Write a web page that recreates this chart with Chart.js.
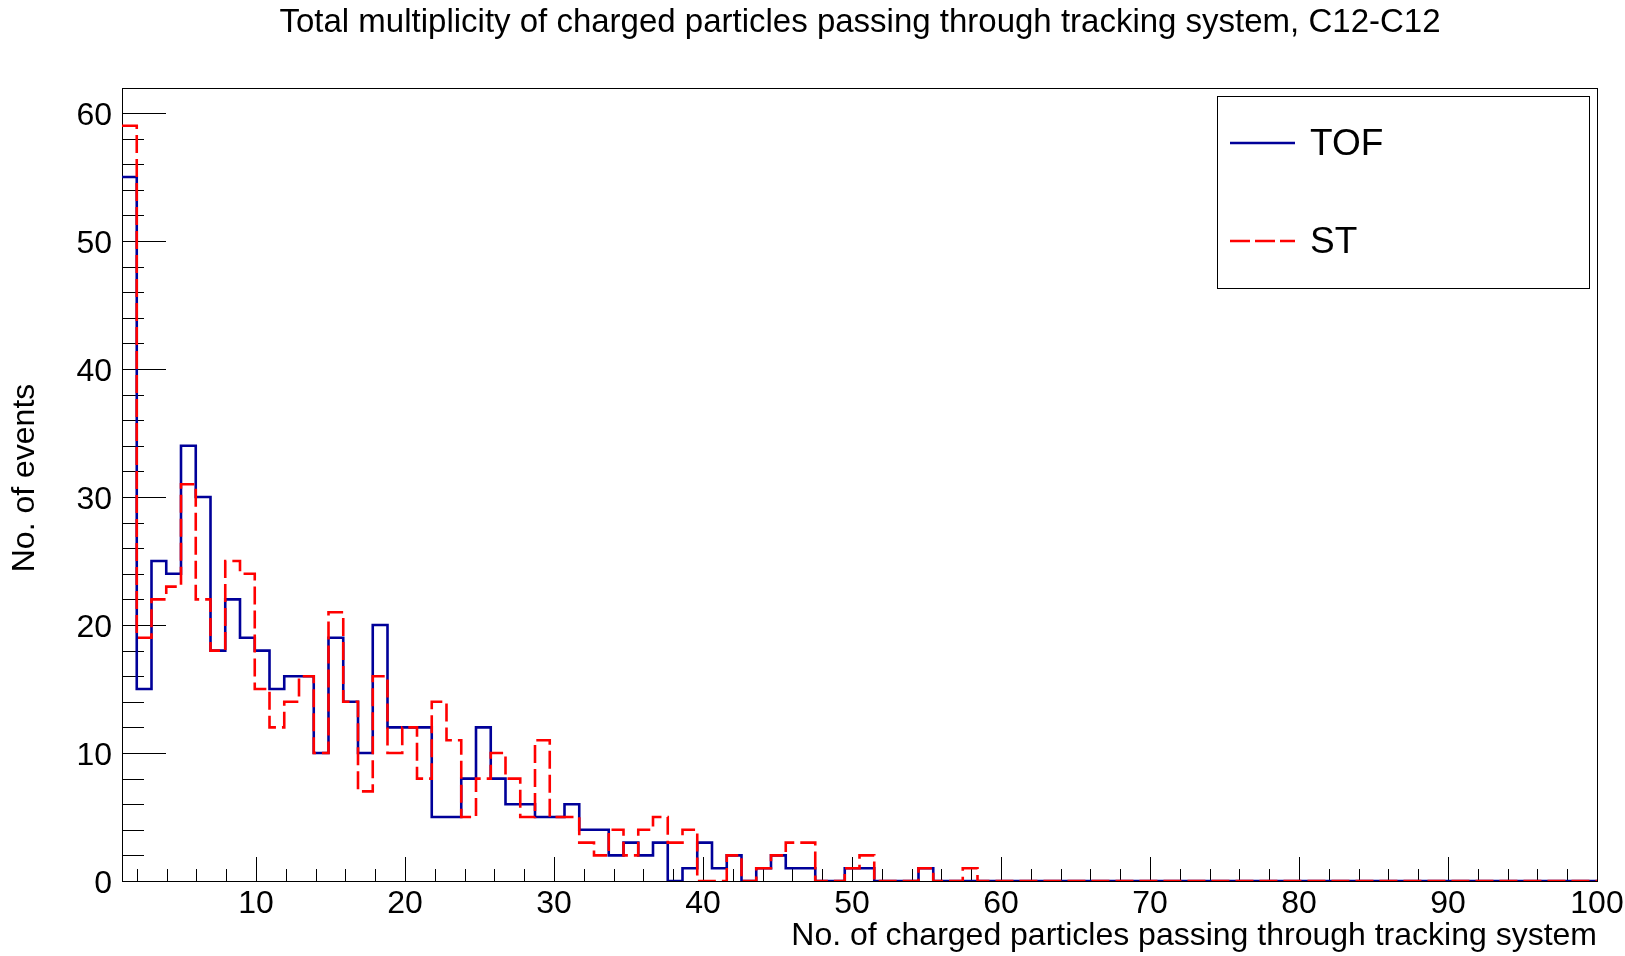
<!DOCTYPE html>
<html>
<head>
<meta charset="utf-8">
<title>Total multiplicity of charged particles, C12-C12</title>
<script src="https://cdn.jsdelivr.net/npm/chart.js@4.4.1/dist/chart.umd.min.js"></script>
<style>
  html, body { margin: 0; padding: 0; background: #ffffff; }
</style>
</head>
<body>
<canvas id="multChart" width="1625" height="956"></canvas>
<script>
// histogram binning (100 bins between 1 and 100)
const binLow = 1;
const binHigh = 100;
const nBins = 100;

// bin contents
const tofCounts = [
  55, 15, 25, 24, 34, 30, 18, 22, 19, 18,
  15, 16, 16, 10, 19, 14, 10, 20, 12, 12,
  12, 5, 5, 8, 12, 8, 6, 6, 5, 5,
  6, 4, 4, 2, 3, 2, 3, 0, 1, 3,
  1, 2, 0, 1, 2, 1, 1, 0, 0, 1,
  1, 0, 0, 0, 1, 0, 0, 0, 0, 0,
  0, 0, 0, 0, 0, 0, 0, 0, 0, 0,
  0, 0, 0, 0, 0, 0, 0, 0, 0, 0,
  0, 0, 0, 0, 0, 0, 0, 0, 0, 0,
  0, 0, 0, 0, 0, 0, 0, 0, 0, 0
];
const stCounts = [
  59, 19, 22, 23, 31, 22, 18, 25, 24, 15,
  12, 14, 16, 10, 21, 14, 7, 16, 10, 12,
  8, 14, 11, 5, 8, 10, 8, 5, 11, 5,
  5, 3, 2, 4, 2, 4, 5, 3, 4, 0,
  0, 2, 0, 1, 2, 3, 3, 0, 0, 1,
  2, 0, 0, 0, 1, 0, 0, 1, 0, 0,
  0, 0, 0, 0, 0, 0, 0, 0, 0, 0,
  0, 0, 0, 0, 0, 0, 0, 0, 0, 0,
  0, 0, 0, 0, 0, 0, 0, 0, 0, 0,
  0, 0, 0, 0, 0, 0, 0, 0, 0, 0
];

const xTickLabels = [10, 20, 30, 40, 50, 60, 70, 80, 90, 100];
const yTickLabels = [0, 10, 20, 30, 40, 50, 60];
const yMax = 61.95;

const FONT = '"Liberation Sans", Arial, Helvetica, sans-serif';
const TOF_COLOR = '#000099';
const ST_COLOR = '#ff0000';

// turn bin contents into step points at the left bin edges
function stepPoints(counts) {
  var w = (binHigh - binLow) / nBins;
  var pts = counts.map(function (c, i) { return { x: binLow + i * w, y: c }; });
  pts.push({ x: binHigh, y: counts[counts.length - 1] });
  return pts;
}

// frame, inner ticks, titles and legend the ROOT way
const rootDecor = {
  id: 'rootDecor',
  beforeDatasetsDraw(chart) {
    var ctx = chart.ctx, a = chart.chartArea;
    var xs = chart.scales.x, ys = chart.scales.y;
    ctx.save();
    ctx.strokeStyle = '#000';
    ctx.lineWidth = 1;
    ctx.strokeRect(a.left + 0.5, a.top + 0.5, a.right - a.left, a.bottom - a.top);
    ctx.beginPath();
    for (var v = 2; v <= binHigh; v += 2) {
      var px = Math.round(xs.getPixelForValue(v)) + 0.5;
      var len = (v % 10 === 0) ? 24 : 12;
      ctx.moveTo(px, a.bottom);
      ctx.lineTo(px, a.bottom - len);
    }
    for (var u = 0; u <= 60; u += 2) {
      var py = Math.round(ys.getPixelForValue(u)) + 0.5;
      var ylen = (u % 10 === 0) ? 44 : 22;
      ctx.moveTo(a.left, py);
      ctx.lineTo(a.left + ylen, py);
    }
    ctx.stroke();
    ctx.restore();
  },
  afterDraw(chart) {
    var ctx = chart.ctx;
    ctx.save();
    ctx.fillStyle = '#000';
    ctx.textBaseline = 'alphabetic';
    ctx.textAlign = 'center';
    ctx.font = '33px ' + FONT;
    ctx.fillText('Total multiplicity of charged particles passing through tracking system, C12-C12', 860, 32);
    ctx.font = '32px ' + FONT;
    ctx.textAlign = 'right';
    ctx.fillText('No. of charged particles passing through tracking system', 1597, 945);
    ctx.save();
    ctx.translate(34, 478);
    ctx.rotate(-Math.PI / 2);
    ctx.textAlign = 'center';
    ctx.fillText('No. of events', 0, 0);
    ctx.restore();

    // legend box
    ctx.strokeStyle = '#000';
    ctx.lineWidth = 1;
    ctx.strokeRect(1217.5, 96.5, 372, 192);
    ctx.lineWidth = 2.6;
    ctx.strokeStyle = TOF_COLOR;
    ctx.beginPath();
    ctx.moveTo(1230, 143);
    ctx.lineTo(1295, 143);
    ctx.stroke();
    ctx.strokeStyle = ST_COLOR;
    ctx.setLineDash([20, 5]);
    ctx.beginPath();
    ctx.moveTo(1230, 241);
    ctx.lineTo(1295, 241);
    ctx.stroke();
    ctx.setLineDash([]);
    ctx.font = '37px ' + FONT;
    ctx.textAlign = 'left';
    ctx.textBaseline = 'middle';
    ctx.fillText('TOF', 1310, 145);
    ctx.fillText('ST', 1310, 243);
    ctx.restore();
  }
};

window.onload = () => {
  renderMultiplicityChart();
};

function renderMultiplicityChart() {
  var ctx = document.getElementById('multChart').getContext('2d');
  new Chart(ctx, {
    type: 'line',
    data: {
      datasets: [{
        label: 'TOF',
        data: stepPoints(tofCounts),
        borderColor: TOF_COLOR,
        borderWidth: 2.6,
        stepped: true,
        pointRadius: 0,
        fill: false,
        order: 2
      }, {
        label: 'ST',
        data: stepPoints(stCounts),
        borderColor: ST_COLOR,
        borderWidth: 2.6,
        borderDash: [18, 6],
        stepped: true,
        pointRadius: 0,
        fill: false,
        order: 1
      }]
    },
    options: {
      responsive: false,
      devicePixelRatio: 1,
      animation: false,
      layout: { padding: { top: 88, right: 28, left: 0, bottom: 0 } },
      plugins: {
        legend: { display: false },
        title: { display: false },
        tooltip: { enabled: false }
      },
      scales: {
        x: {
          type: 'linear',
          min: binLow,
          max: binHigh,
          grid: { display: false, drawTicks: false },
          border: { display: false },
          afterBuildTicks: function (axis) {
            axis.ticks = xTickLabels.map(function (v) { return { value: v }; });
          },
          afterFit: function (axis) {
            axis.height = 75;
            axis.paddingLeft = 0;
            axis.paddingRight = 0;
          },
          ticks: {
            padding: 4,
            maxRotation: 0,
            autoSkip: false,
            color: '#000',
            font: { family: FONT, size: 32 }
          }
        },
        y: {
          type: 'linear',
          min: 0,
          max: yMax,
          grid: { display: false, drawTicks: false },
          border: { display: false },
          afterBuildTicks: function (axis) {
            axis.ticks = yTickLabels.map(function (v) { return { value: v }; });
          },
          afterFit: function (axis) {
            axis.width = 122;
            axis.paddingTop = 0;
            axis.paddingBottom = 0;
          },
          ticks: {
            padding: 10,
            labelOffset: 3,
            autoSkip: false,
            color: '#000',
            font: { family: FONT, size: 32 }
          }
        }
      }
    },
    plugins: [rootDecor]
  });
}
</script>
</body>
</html>
